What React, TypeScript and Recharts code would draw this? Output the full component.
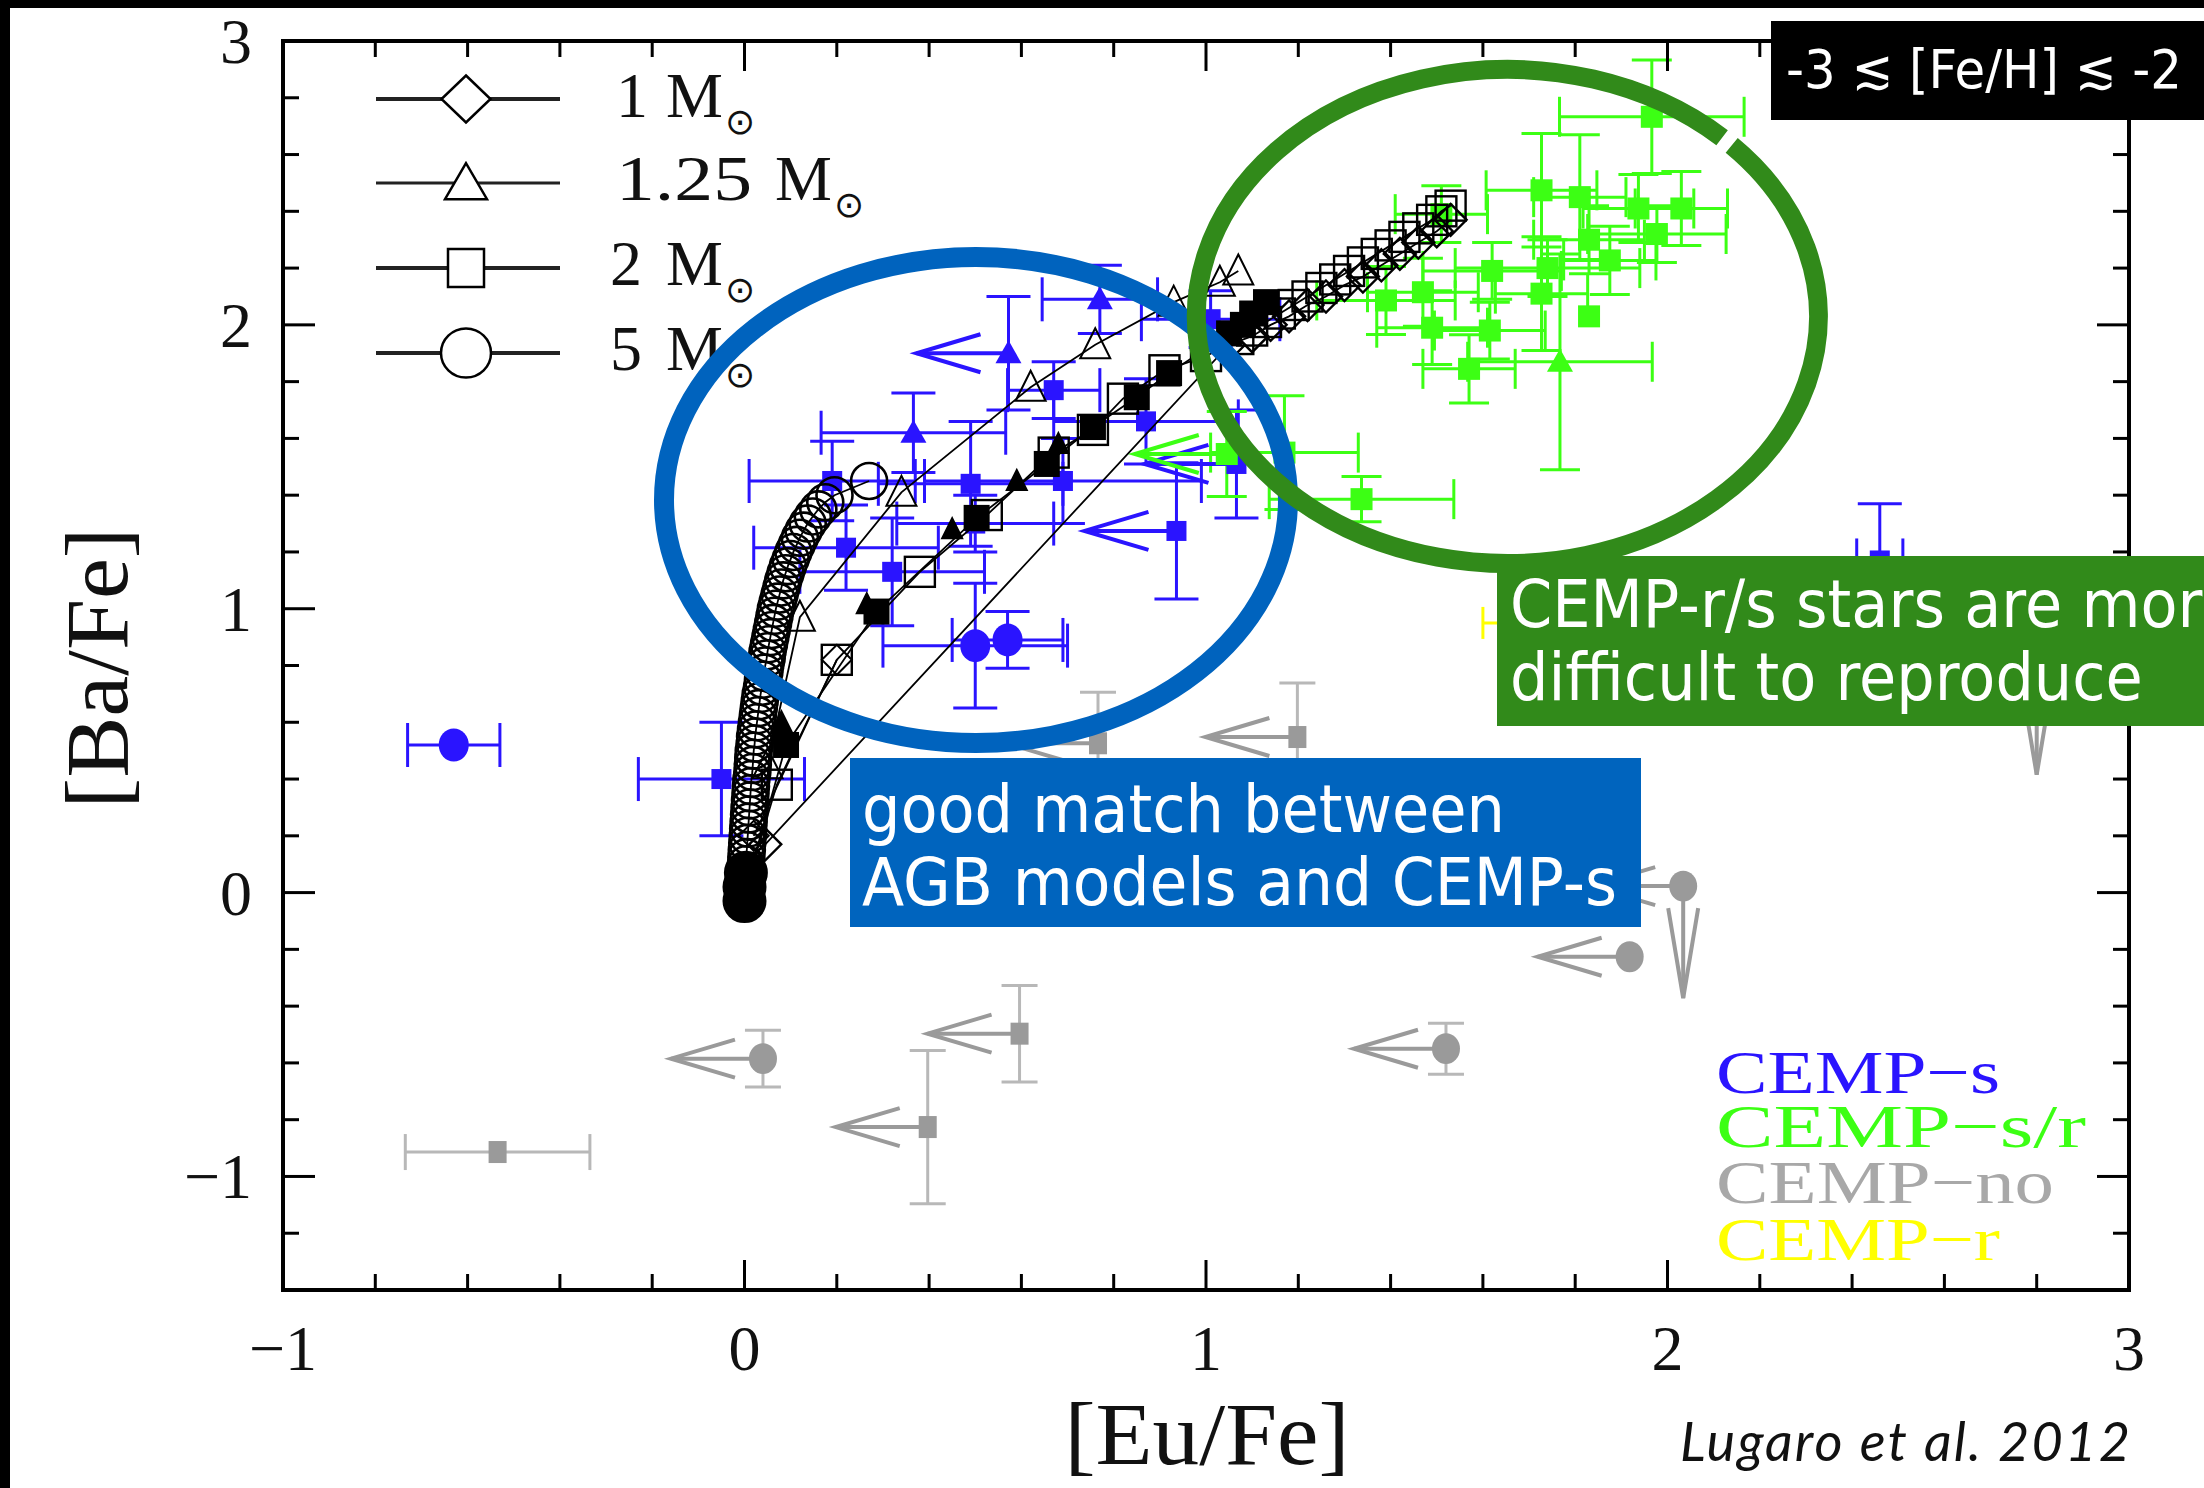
import React from 'react'
import { ScatterChart, Scatter, XAxis, YAxis, ErrorBar, ReferenceArea } from 'recharts'

const W = 2204
const H = 1488
// plot frame, page pixels
const PL = 283
const PR = 2129
const PT = 41
const PB = 1290

const SERIF = '"Liberation Serif", "Times New Roman", serif'
const SANS = '"DejaVu Sans", Verdana, sans-serif'

const X_TICKS = [-1, -0.8, -0.6, -0.4, -0.2, 0, 0.2, 0.4, 0.6, 0.8, 1, 1.2, 1.4, 1.6, 1.8, 2, 2.2, 2.4, 2.6, 2.8, 3]
const Y_TICKS = [-1.4, -1.2, -1, -0.8, -0.6, -0.4, -0.2, 0, 0.2, 0.4, 0.6, 0.8, 1, 1.2, 1.4, 1.6, 1.8, 2, 2.2, 2.4, 2.6, 2.8, 3]
const X_LABELED = [-1, 0, 1, 2, 3]
const Y_LABELED = [-1, 0, 1, 2, 3]

// observed stars: ex / ey = error half widths, ul = upper limit on [Eu/Fe], ulb = upper limit on [Ba/Fe]
const CEMP_S = [
  { x: -0.63, y: 0.52, ex: 0.1, ey: 0, m: 'c' },
  { x: -0.05, y: 0.4, ex: 0.18, ey: 0.2, m: 's' },
  { x: 0.19, y: 1.45, ex: 0.18, ey: 0.14, m: 's' },
  { x: 0.22, y: 1.215, ex: 0.2, ey: 0.15, m: 's' },
  { x: 0.32, y: 1.13, ex: 0.2, ey: 0.19, m: 's' },
  { x: 0.366, y: 1.62, ex: 0.2, ey: 0.14, m: 't' },
  { x: 0.49, y: 1.44, ex: 0.2, ey: 0.22, m: 's' },
  { x: 0.5, y: 1.3, ex: 0.17, ey: 0.1, m: 's' },
  { x: 0.5, y: 0.87, ex: 0.2, ey: 0.22, m: 'c' },
  { x: 0.57, y: 0.89, ex: 0.12, ey: 0.1, m: 'c' },
  { x: 0.572, y: 1.9, ex: 0, ey: 0.2, m: 't', ul: 1 },
  { x: 0.67, y: 1.77, ex: 0.1, ey: 0.1, m: 's' },
  { x: 0.69, y: 1.45, ex: 0.3, ey: 0.15, m: 's' },
  { x: 0.77, y: 2.09, ex: 0.125, ey: 0.12, m: 't' },
  { x: 0.87, y: 1.66, ex: 0.2, ey: 0.15, m: 's' },
  { x: 0.936, y: 1.274, ex: 0, ey: 0.24, m: 's', ul: 1 },
  { x: 1.066, y: 1.51, ex: 0, ey: 0.19, m: 's', ul: 1 },
  { x: 1.01, y: 2.02, ex: 0.15, ey: 0.1, m: 's' },
  { x: 2.46, y: 1.17, ex: 0.05, ey: 0.2, m: 's' },
]

const CEMP_SR = [
  { x: 1.966, y: 2.733, ex: 0.2, ey: 0.2, m: 's' },
  { x: 1.727, y: 2.474, ex: 0.12, ey: 0.2, m: 's' },
  { x: 1.81, y: 2.45, ex: 0.1, ey: 0.22, m: 's' },
  { x: 1.937, y: 2.41, ex: 0.12, ey: 0.12, m: 's' },
  { x: 2.03, y: 2.41, ex: 0.1, ey: 0.13, m: 's' },
  { x: 1.83, y: 2.3, ex: 0.12, ey: 0.12, m: 's' },
  { x: 1.977, y: 2.32, ex: 0.15, ey: 0.1, m: 's' },
  { x: 1.875, y: 2.227, ex: 0.1, ey: 0.12, m: 's' },
  { x: 1.62, y: 2.19, ex: 0.15, ey: 0.1, m: 's' },
  { x: 1.74, y: 2.2, ex: 0.2, ey: 0.1, m: 's' },
  { x: 1.727, y: 2.11, ex: 0.1, ey: 0.2, m: 's' },
  { x: 1.47, y: 2.115, ex: 0.12, ey: 0.12, m: 's' },
  { x: 1.83, y: 2.03, ex: 0, ey: 0, m: 's' },
  { x: 1.615, y: 1.98, ex: 0.12, ey: 0.1, m: 's' },
  { x: 1.49, y: 1.99, ex: 0.12, ey: 0.13, m: 's' },
  { x: 1.57, y: 1.845, ex: 0.1, ey: 0.12, m: 's' },
  { x: 1.767, y: 1.87, ex: 0.2, ey: 0.38, m: 't' },
  { x: 1.39, y: 2.086, ex: 0.15, ey: 0.12, m: 's' },
  { x: 1.337, y: 1.386, ex: 0.2, ey: 0.08, m: 's' },
  { x: 1.045, y: 1.545, ex: 0, ey: 0.15, m: 's', ul: 1 },
  { x: 1.17, y: 1.55, ex: 0.16, ey: 0.2, m: 's' },
  { x: 1.51, y: 2.39, ex: 0.1, ey: 0.1, m: 's' },
]

const CEMP_NO = [
  { x: -0.535, y: -0.914, ex: 0.2, ey: 0, m: 's' },
  { x: 0.04, y: -0.585, ex: 0, ey: 0.1, m: 'c', ul: 1 },
  { x: 0.596, y: -0.497, ex: 0, ey: 0.17, m: 's', ul: 1 },
  { x: 0.397, y: -0.826, ex: 0, ey: 0.27, m: 's', ul: 1 },
  { x: 1.52, y: -0.55, ex: 0, ey: 0.09, m: 'c', ul: 1 },
  { x: 2.034, y: 0.023, ex: 0, ey: 0, m: 'c', ul: 1, ulb: 1 },
  { x: 1.918, y: -0.226, ex: 0, ey: 0, m: 'c', ul: 1 },
  { x: 1.198, y: 0.548, ex: 0, ey: 0.19, m: 's', ul: 1 },
  { x: 0.766, y: 0.526, ex: 0, ey: 0.18, m: 's', ul: 1 },
  { x: 0.6, y: 0.05, ex: 0, ey: 0.12, m: 's', ul: 1 },
  { x: 2.8, y: 0.81, ex: 0, ey: 0, m: 'c', ulb: 1 },
]

const CEMP_R = [{ x: 1.7, y: 0.95, ex: 0.1, ey: 0, m: 's' }]

// AGB model predictions (after dilution)
const M5_START = [
  { x: 0, y: -0.03 }, { x: 0, y: 0.02 }, { x: 0.003, y: 0.07 },
]
const M5_TRACK = [
  { x: 0.003, y: 0.1 }, { x: 0.004, y: 0.125 }, { x: 0.005, y: 0.15 }, { x: 0.006, y: 0.175 },
  { x: 0.007, y: 0.2 }, { x: 0.008, y: 0.225 }, { x: 0.009, y: 0.25 }, { x: 0.01, y: 0.275 },
  { x: 0.011, y: 0.3 }, { x: 0.012, y: 0.325 }, { x: 0.013, y: 0.35 }, { x: 0.014, y: 0.375 },
  { x: 0.015, y: 0.4 }, { x: 0.017, y: 0.425 }, { x: 0.018, y: 0.45 }, { x: 0.019, y: 0.475 },
  { x: 0.02, y: 0.5 }, { x: 0.022, y: 0.525 }, { x: 0.023, y: 0.55 }, { x: 0.025, y: 0.575 },
  { x: 0.027, y: 0.6 }, { x: 0.029, y: 0.625 }, { x: 0.031, y: 0.65 }, { x: 0.033, y: 0.675 },
  { x: 0.035, y: 0.7 }, { x: 0.038, y: 0.725 }, { x: 0.04, y: 0.75 }, { x: 0.043, y: 0.775 },
  { x: 0.045, y: 0.8 }, { x: 0.048, y: 0.825 }, { x: 0.05, y: 0.85 }, { x: 0.053, y: 0.875 },
  { x: 0.056, y: 0.9 }, { x: 0.059, y: 0.925 }, { x: 0.062, y: 0.95 }, { x: 0.065, y: 0.975 },
  { x: 0.068, y: 1.0 }, { x: 0.072, y: 1.025 }, { x: 0.076, y: 1.05 }, { x: 0.08, y: 1.075 },
  { x: 0.084, y: 1.1 }, { x: 0.089, y: 1.125 }, { x: 0.094, y: 1.15 }, { x: 0.1, y: 1.175 },
  { x: 0.106, y: 1.2 }, { x: 0.113, y: 1.225 }, { x: 0.12, y: 1.25 }, { x: 0.128, y: 1.275 },
  { x: 0.137, y: 1.3 }, { x: 0.148, y: 1.325 }, { x: 0.16, y: 1.35 }, { x: 0.175, y: 1.375 },
  { x: 0.195, y: 1.4 }, { x: 0.27, y: 1.45 },
]
const M2_OPEN = [
  { x: 0, y: 0 }, { x: 0.07, y: 0.38 }, { x: 0.2, y: 0.82 }, { x: 0.38, y: 1.13 },
  { x: 0.525, y: 1.33 }, { x: 0.67, y: 1.55 }, { x: 0.755, y: 1.63 }, { x: 0.82, y: 1.74 },
  { x: 0.91, y: 1.84 }, { x: 1.0, y: 1.89 }, { x: 1.07, y: 1.95 }, { x: 1.1, y: 1.98 },
  { x: 1.13, y: 2.01 }, { x: 1.16, y: 2.04 }, { x: 1.19, y: 2.07 }, { x: 1.22, y: 2.1 },
  { x: 1.25, y: 2.13 }, { x: 1.28, y: 2.16 }, { x: 1.31, y: 2.19 }, { x: 1.34, y: 2.22 },
  { x: 1.37, y: 2.25 }, { x: 1.4, y: 2.28 }, { x: 1.43, y: 2.31 }, { x: 1.46, y: 2.34 },
  { x: 1.49, y: 2.37 }, { x: 1.51, y: 2.4 }, { x: 1.53, y: 2.42 },
]
const M2_FILLED = [
  { x: 0, y: 0 }, { x: 0.09, y: 0.52 }, { x: 0.286, y: 0.99 }, { x: 0.503, y: 1.32 },
  { x: 0.655, y: 1.51 }, { x: 0.755, y: 1.64 }, { x: 0.85, y: 1.745 }, { x: 0.92, y: 1.83 },
  { x: 1.05, y: 1.97 }, { x: 1.08, y: 2.0 }, { x: 1.1, y: 2.04 }, { x: 1.13, y: 2.08 },
]
const M125_OPEN = [
  { x: 0.05, y: 0.45 }, { x: 0.12, y: 0.97 }, { x: 0.34, y: 1.41 }, { x: 0.62, y: 1.78 },
  { x: 0.76, y: 1.93 }, { x: 0.93, y: 2.08 }, { x: 1.03, y: 2.15 }, { x: 1.07, y: 2.19 },
]
const M125_FILLED = [
  { x: 0.08, y: 0.6 }, { x: 0.265, y: 1.016 }, { x: 0.45, y: 1.28 }, { x: 0.59, y: 1.45 }, { x: 0.68, y: 1.58 },
]
const M1_TRACK = [
  { x: 0.045, y: 0.17 }, { x: 1.05, y: 1.93 }, { x: 1.1, y: 1.96 }, { x: 1.14, y: 2.0 },
  { x: 1.18, y: 2.03 }, { x: 1.22, y: 2.07 }, { x: 1.26, y: 2.1 }, { x: 1.3, y: 2.14 },
  { x: 1.34, y: 2.17 }, { x: 1.38, y: 2.21 }, { x: 1.42, y: 2.25 }, { x: 1.46, y: 2.29 },
  { x: 1.5, y: 2.33 }, { x: 1.53, y: 2.37 },
]
const M1_LOW = [{ x: 0.02, y: 0.2 }, { x: 0.2, y: 0.82 }]

const LEGEND_ROWS = [
  { num: '1', kind: 'dia' },
  { num: '1.25', kind: 'tri' },
  { num: '2', kind: 'sq' },
  { num: '5', kind: 'circle' },
]
const CLASS_LABELS = ['CEMP−s', 'CEMP−s/r', 'CEMP−no', 'CEMP−r']

const BLUE = '#2a14ff'
const GREEN = '#3cff14'
const GRAY = '#9a9a9a'
const GRAY_BAR = '#b8b8b8'
const YELLOW = '#ffff00'
const CLASS_COLORS = [BLUE, GREEN, '#a8a8a8', YELLOW]

const ARROW = 92 // 0.2 dex

const fmt = (v: number) => (v < 0 ? `\u2212${Math.abs(v)}` : `${v}`)

const XTick = (props: any) => {
  const { x, payload } = props
  const v = payload.value
  const major = X_LABELED.includes(v)
  const len = major ? 30 : 16
  return (
    <g>
      <line x1={x} x2={x} y1={PB} y2={PB - len} stroke="#000" strokeWidth={3} />
      <line x1={x} x2={x} y1={PT} y2={PT + len} stroke="#000" strokeWidth={3} />
      {major && (
        <text x={x} y={1370} textAnchor="middle" fontFamily={SERIF} fontSize={64} fill="#111">
          {fmt(v)}
        </text>
      )}
    </g>
  )
}

const YTick = (props: any) => {
  const { y, payload } = props
  const v = payload.value
  const major = Y_LABELED.includes(v)
  const len = major ? 32 : 16
  return (
    <g>
      <line x1={PL} x2={PL + len} y1={y} y2={y} stroke="#000" strokeWidth={3} />
      <line x1={PR} x2={PR - len} y1={y} y2={y} stroke="#000" strokeWidth={3} />
      {major && (
        <text x={252} y={y + 22} textAnchor="end" fontFamily={SERIF} fontSize={64} fill="#111">
          {fmt(v)}
        </text>
      )}
    </g>
  )
}

function obsShape(color: string, sw: number, sh: number, r: number) {
  return (props: any) => {
    const { cx, cy, payload } = props
    if (cx == null || cy == null) return <g />
    const p = payload || {}
    let mark
    if (p.m === 't') {
      mark = <polygon points={`${cx},${cy - 13} ${cx - 13},${cy + 10} ${cx + 13},${cy + 10}`} fill={color} />
    } else if (p.m === 'c') {
      mark = <ellipse cx={cx} cy={cy} rx={r} ry={r * 1.1} fill={color} />
    } else {
      mark = <rect x={cx - sw / 2} y={cy - sh / 2} width={sw} height={sh} fill={color} />
    }
    return (
      <g>
        {p.ul ? (
          <g stroke={color} strokeWidth={4} fill="none">
            <line x1={cx} y1={cy} x2={cx - ARROW} y2={cy} />
            <polyline points={`${cx - ARROW + 64},${cy - 19} ${cx - ARROW},${cy} ${cx - ARROW + 64},${cy + 19}`} />
          </g>
        ) : null}
        {p.ulb ? (
          <g stroke={color} strokeWidth={4} fill="none">
            <line x1={cx} y1={cy} x2={cx} y2={cy + 112} />
            <polyline points={`${cx - 15},${cy + 22} ${cx},${cy + 112} ${cx + 15},${cy + 22}`} />
          </g>
        ) : null}
        {mark}
      </g>
    )
  }
}

function markerEl(kind: string, cx: number, cy: number, w: number, h: number, fill: string, sw: number) {
  const hw = w / 2
  const hh = h / 2
  if (kind === 'circle') return <ellipse cx={cx} cy={cy} rx={hw} ry={hh} fill={fill} stroke="#000" strokeWidth={sw} />
  if (kind === 'tri')
    return <polygon points={`${cx},${cy - hh * 1.1} ${cx - hw},${cy + hh * 0.9} ${cx + hw},${cy + hh * 0.9}`} fill={fill} stroke="#000" strokeWidth={sw} />
  if (kind === 'dia')
    return <polygon points={`${cx},${cy - hh} ${cx + hw},${cy} ${cx},${cy + hh} ${cx - hw},${cy}`} fill={fill} stroke="#000" strokeWidth={sw} />
  return <rect x={cx - hw} y={cy - hh} width={w} height={h} fill={fill} stroke="#000" strokeWidth={sw} />
}

function modelShape(kind: string, size: number, filled: boolean, sw = 2) {
  return (props: any) => {
    const { cx, cy } = props
    if (cx == null || cy == null) return <g />
    return markerEl(kind, cx, cy, size, size, filled ? '#000' : 'none', sw)
  }
}

const modelLine = { stroke: '#000', strokeWidth: 1.8 }

export default function App() {
  return (
    <div style={{ position: 'absolute', left: 0, top: 0, width: W, height: H, background: '#fff', overflow: 'hidden' }}>
      <ScatterChart width={W} height={H} margin={{ top: PT, right: W - PR, bottom: H - PB - 40, left: PL - 40 }}>
        <XAxis type="number" dataKey="x" domain={[-1, 3]} ticks={X_TICKS} interval={0} height={40}
          axisLine={false} tickLine={false} tick={<XTick />} allowDataOverflow />
        <YAxis type="number" dataKey="y" domain={[-1.4, 3]} ticks={Y_TICKS} interval={0} width={40}
          axisLine={false} tickLine={false} tick={<YTick />} allowDataOverflow />
        <ReferenceArea x1={-1} x2={3} y1={-1.4} y2={3} fill="none" stroke="#000" strokeWidth={4} ifOverflow="visible" />

        <Scatter data={CEMP_NO} isAnimationActive={false} shape={obsShape(GRAY, 18, 22, 14)}>
          <ErrorBar dataKey="ex" direction="x" width={18} stroke={GRAY_BAR} strokeWidth={3} isAnimationActive={false} />
          <ErrorBar dataKey="ey" direction="y" width={18} stroke={GRAY_BAR} strokeWidth={3} isAnimationActive={false} />
        </Scatter>
        <Scatter data={CEMP_R} isAnimationActive={false} shape={obsShape(YELLOW, 16, 16, 9)}>
          <ErrorBar dataKey="ex" direction="x" width={16} stroke={YELLOW} strokeWidth={3} isAnimationActive={false} />
        </Scatter>
        <Scatter data={CEMP_S} isAnimationActive={false} shape={obsShape(BLUE, 20, 20, 15)}>
          <ErrorBar dataKey="ex" direction="x" width={22} stroke={BLUE} strokeWidth={3} isAnimationActive={false} />
          <ErrorBar dataKey="ey" direction="y" width={22} stroke={BLUE} strokeWidth={3} isAnimationActive={false} />
        </Scatter>
        <Scatter data={CEMP_SR} isAnimationActive={false} shape={obsShape(GREEN, 22, 22, 12)}>
          <ErrorBar dataKey="ex" direction="x" width={20} stroke={GREEN} strokeWidth={3} isAnimationActive={false} />
          <ErrorBar dataKey="ey" direction="y" width={20} stroke={GREEN} strokeWidth={3} isAnimationActive={false} />
        </Scatter>

        <Scatter data={M2_OPEN} isAnimationActive={false} line={modelLine} shape={modelShape('sq', 30, false, 2.4)} />
        <Scatter data={M1_TRACK} isAnimationActive={false} line={modelLine} shape={modelShape('dia', 32, false, 2.4)} />
        <Scatter data={M2_FILLED} isAnimationActive={false} line={modelLine} shape={modelShape('sq', 24, true)} />
        <Scatter data={M125_OPEN} isAnimationActive={false} line={modelLine} shape={modelShape('tri', 30, false)} />
        <Scatter data={M125_FILLED} isAnimationActive={false} shape={modelShape('tri', 20, true)} />
        <Scatter data={M1_LOW} isAnimationActive={false} line={modelLine} shape={modelShape('dia', 30, false)} />
        <Scatter data={M5_TRACK} isAnimationActive={false} line={modelLine} shape={modelShape('circle', 36, false, 2.6)} />
        <Scatter data={M5_START} isAnimationActive={false} shape={modelShape('circle', 42, true)} />
      </ScatterChart>

      <svg width={W} height={H} style={{ position: 'absolute', left: 0, top: 0, pointerEvents: 'none' }}>
        <rect x={0} y={0} width={W} height={8} fill="#000" />
        <rect x={0} y={0} width={10} height={H} fill="#000" />

        {/* model legend */}
        {LEGEND_ROWS.map((row, i) => {
          const ly = [99, 183, 268, 353][i]
          const base = [117, 200, 285, 370][i]
          const mx = i === 1 ? 775 : 666
          const dims = [[49, 47], [42, 36], [36, 38], [50, 49]][i]
          return (
            <g key={row.num}>
              <line x1={376} x2={560} y1={ly} y2={ly} stroke="#222" strokeWidth={i === 1 ? 3 : 4} />
              {markerEl(row.kind, 466, ly, dims[0], dims[1], '#fff', 2.5)}
              <text x={i === 0 || i === 1 ? 616 : 610} y={base} fontFamily={SERIF} fontSize={64} fill="#111"
                textLength={i === 1 ? 136 : undefined} lengthAdjust="spacingAndGlyphs">{row.num}</text>
              <text x={mx} y={base} fontFamily={SERIF} fontSize={64} fill="#111">
                M<tspan dy={17} dx={2} fontFamily={SANS} fontSize={36}>⊙</tspan>
              </text>
            </g>
          )
        })}

        {/* class legend */}
        {CLASS_LABELS.map((lab, i) => (
          <text key={lab} x={1716} y={[1093, 1147, 1203, 1260][i]} fontFamily={SERIF} fontSize={62}
            fill={CLASS_COLORS[i]} textLength={[284, 370, 338, 284][i]} lengthAdjust="spacingAndGlyphs">{lab}</text>
        ))}

        {/* axis titles */}
        <text x={1207} y={1464} textAnchor="middle" fontFamily={SERIF} fontSize={88} fill="#111"
          textLength={285} lengthAdjust="spacingAndGlyphs">[Eu/Fe]</text>
        <text transform="translate(127,668) rotate(-90)" textAnchor="middle" fontFamily={SERIF} fontSize={88}
          fill="#111" textLength={281} lengthAdjust="spacingAndGlyphs">[Ba/Fe]</text>

        {/* highlight ellipses */}
        <ellipse cx={976} cy={500} rx={312} ry={243} fill="none" stroke="#0063be" strokeWidth={20} />
        <path d="M1731.7,145.4 A311,247 0 1 1 1722.1,137.8" fill="none" stroke="#318a1a" strokeWidth={19} />

        {/* annotation boxes */}
        <rect x={850} y={758} width={791} height={169} fill="#0064be" />
        <g fontFamily={SANS} fontSize={66} fill="#fff">
          <text x={862} y={832} textLength={643} lengthAdjust="spacingAndGlyphs">good match between</text>
          <text x={862} y={905} textLength={755} lengthAdjust="spacingAndGlyphs">AGB models and CEMP-s</text>
        </g>
        <rect x={1497} y={556} width={W - 1497} height={170} fill="#318a1a" />
        <g transform="translate(1510,0) scale(0.918,1)" fontFamily={SANS} fontSize={66} fill="#fff">
          <text x={0} y={627}>CEMP-r/s stars are more</text>
          <text x={0} y={700}>difficult to reproduce</text>
        </g>
        <rect x={1771} y={21} width={W - 1771} height={99} fill="#000" />
        <text x={1786} y={88} fontFamily={SANS} fontSize={54} fill="#fff" textLength={396}
          lengthAdjust="spacingAndGlyphs">-3 ≲ [Fe/H] ≲ -2</text>

        <text x={1680} y={1461} fontFamily="Lato, 'Liberation Sans', sans-serif" fontStyle="italic"
          fontSize={54} fill="#111" textLength={450}>Lugaro et al. 2012</text>
      </svg>
    </div>
  )
}
